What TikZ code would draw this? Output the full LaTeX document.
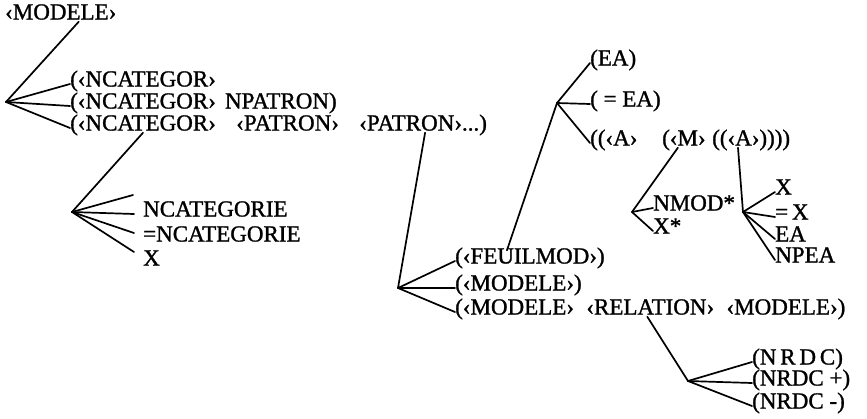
\documentclass[tikz,border=0pt]{standalone}
\usepackage{fontspec}
\setmainfont{Liberation Serif}[FakeBold=1.2]
\usetikzlibrary{positioning}

\begin{document}
\begin{tikzpicture}[x=1pt,y=-1pt,
    lab/.style={anchor=west,inner sep=0pt,text height=.7em,text depth=.2em,
                font=\fontsize{23}{27}\selectfont},
    br/.style={line width=1.7pt,line cap=round}]
\useasboundingbox (0,0) rectangle (867,418);

\node[lab] (t0) at (5,17) {‹MODELE›};
\coordinate (fa) at (6,102);
\node[lab] (r1) at (70,84) {(‹NCATEGOR›};
\node[lab] (r2) at (70,106) {(‹NCATEGOR›\hspace{.4em}NPATRON)};
\node[lab] (r3a) at (70,128) {(‹NCATEGOR›};
\node[lab,right=20pt of r3a] (r3b) {‹PATRON›};
\node[lab,right=20pt of r3b] (r3c) {‹PATRON›...)};
\draw[br] ([xshift=18pt]t0.south) -- (fa);
\draw[br] (fa) -- (r1.west);
\draw[br] (fa) -- (r2.west);
\draw[br] (fa) -- (r3a.west);

\coordinate (fb) at (72,212);
\coordinate (b0) at (133,195);
\node[lab] (nb1) at (143,214) {NCATEGORIE};
\node[lab] (nb2) at (143,239) {=NCATEGORIE};
\node[lab] (nb3) at (143,263) {X};
\draw[br] (r3a.south) -- (fb);
\draw[br] (fb) -- (b0);
\draw[br] (fb) -- ([xshift=-9pt]nb1.west);
\draw[br] (fb) -- ([xshift=-9pt,yshift=6pt]nb2.west);
\draw[br] (fb) -- ([xshift=-9pt,yshift=11pt]nb3.west);

\coordinate (fd) at (398,288);
\node[lab] (s1) at (455,261) {(‹FEUILMOD›)};
\node[lab] (s2) at (455,288) {(‹MODELE›)};
\node[lab] (s3a) at (455,312) {(‹MODELE›};
\node[lab,right=12pt of s3a] (s3b) {‹RELATION›};
\node[lab,right=12pt of s3b] (s3c) {‹MODELE›)};
\draw[br] ([xshift=2pt]r3c.south) -- (fd);
\draw[br] (fd) -- (s1.west);
\draw[br] (fd) -- (s2.west);
\draw[br] (fd) -- (s3a.west);

\coordinate (fc) at (557,103);
\node[lab] (ea) at (590,63) {(EA)};
\node[lab] (eq) at (590,104) {( = EA)};
\node[lab] (ca) at (590,143) {((‹A›};
\node[lab] (cm) at (662,143) {(‹M›};
\node[lab] (cn) at (712,143) {((‹A›))))};
\draw[br] ([xshift=-23pt,yshift=6pt]s1.north) -- (fc);
\draw[br] (fc) -- (ea.west);
\draw[br] (fc) -- (eq.west);
\draw[br] (fc) -- (ca.west);

\coordinate (ff) at (632,212);
\node[lab] (nm) at (653,208) {NMOD*};
\node[lab] (xs) at (653,231) {X*};
\draw[br] ([xshift=-6pt]cm.south) -- (ff);
\draw[br] (ff) -- (nm.west);
\draw[br] (ff) -- (xs.west);

\coordinate (fg) at (743,212);
\node[lab] (gx) at (775,192) {X};
\node[lab] (gq) at (775,217) {=\,X};
\node[lab] (ge) at (775,239) {EA};
\node[lab] (gn) at (775,260) {NPEA};
\draw[br] ([xshift=26pt]cn.south west) -- (fg);
\draw[br] (fg) -- (gx.west);
\draw[br] (fg) -- (gq.west);
\draw[br] (fg) -- (ge.west);
\draw[br] (fg) -- (gn.west);

\coordinate (fe) at (688,381);
\node[lab] (n1) at (752,362) {(N\,R\,D\,C)};
\node[lab] (n2) at (752,383) {(NRDC\ +)};
\node[lab] (n3) at (752,406) {(NRDC -)};
\draw[br] ([xshift=-3pt]s3b.south) -- (fe);
\draw[br] (fe) -- (n1.west);
\draw[br] (fe) -- (n2.west);
\draw[br] (fe) -- (n3.west);
\end{tikzpicture}
\end{document}
